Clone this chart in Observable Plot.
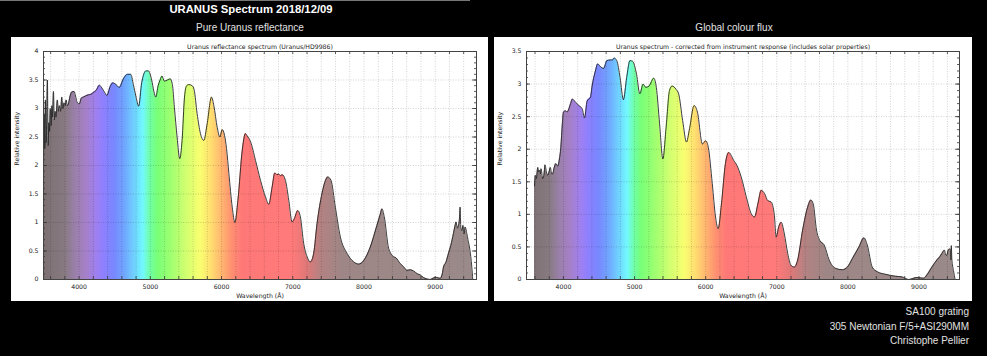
<!DOCTYPE html>
<html><head><meta charset="utf-8">
<script src="https://cdn.jsdelivr.net/npm/d3@7"></script>
<script src="https://cdn.jsdelivr.net/npm/@observablehq/plot@0.6"></script>
<style>
html,body{margin:0;padding:0;background:#000;width:987px;height:356px;overflow:hidden}
#root{position:relative;width:987px;height:356px;font-family:"Liberation Sans",Arial,sans-serif}
.t{position:absolute;white-space:nowrap;line-height:1}
.c{transform:translateX(-50%)}
.panel{position:absolute;top:37px}
</style></head>
<body><div id="root">
<div style="position:absolute;left:0;top:0;width:470px;height:1px;background:#777"></div>
<div class="t c" style="left:251px;top:3.5px;font-size:11.3px;font-weight:bold;color:#fff">URANUS Spectrum 2018/12/09</div>
<div class="t c" style="left:250px;top:23px;font-size:10px;color:#e2e2e2">Pure Uranus reflectance</div>
<div class="t c" style="left:734px;top:23px;font-size:10px;color:#e2e2e2">Global colour flux</div>
<div id="left" class="panel" style="left:11px"></div>
<div id="right" class="panel" style="left:494px"></div>
<div class="t" style="right:18px;top:307px;font-size:10px;color:#e2e2e2;text-align:right">SA100 grating</div>
<div class="t" style="right:18px;top:321.5px;font-size:10px;color:#e2e2e2;text-align:right">305 Newtonian F/5+ASI290MM</div>
<div class="t" style="right:18px;top:336px;font-size:10px;color:#e2e2e2;text-align:right">Christophe Pellier</div>
</div>
<script>
// ---- Data: Uranus reflectance (Uranus/HD9986) ----
const reflWave = [3500,3510,3518,3527,3535,3545,3555,3565,3575,3585,3595,3607,3618,3628,3640,3652,3664,3675,3695,3708,3723,3740,3757,3772,3790,3805,3818,3835,3850,3870,3897,3930,3950,3970,4004,4030,4060,4090,4130,4165,4200,4240,4285,4320,4360,4390,4435,4472,4519,4563,4622,4678,4725,4762,4800,4836,4879,4940,4973,5019,5050,5076,5110,5137,5164,5197,5240,5280,5310,5338,5376,5413,5446,5480,5510,5540,5587,5615,5657,5704,5751,5798,5859,5892,5939,5977,6009,6042,6070,6103,6150,6188,6230,6291,6336,6360,6407,6477,6547,6617,6664,6710,6748,6780,6804,6830,6850,6897,6944,6991,7023,7070,7107,7154,7201,7248,7294,7341,7411,7460,7491,7537,7598,7668,7762,7855,7925,7995,8089,8182,8230,8252,8285,8346,8416,8450,8509,8560,8603,8650,8696,8750,8790,8830,8860,8930,8970,9000,9040,9070,9100,9117,9150,9187,9220,9257,9280,9294,9310,9327,9340,9350,9360,9374,9390,9405,9421,9444,9460,9481,9500,9514,9528];
const reflValue = [2.1,2.9,2.3,3.15,2.4,2.7,3.5,2.35,2.75,2.6,3.0,2.7,3.05,2.85,3.3,2.8,2.95,2.85,3.15,2.95,3.05,2.95,3.2,3.0,3.1,3.05,3.15,3.05,3.08,3.2,3.29,3.3,3.22,3.12,3.08,3.18,3.2,3.22,3.24,3.25,3.28,3.32,3.41,3.36,3.28,3.23,3.38,3.45,3.42,3.37,3.52,3.6,3.6,3.42,3.2,3.04,3.45,3.66,3.66,3.5,3.3,3.2,3.4,3.5,3.57,3.48,3.5,3.52,3.42,3.02,2.5,2.12,2.44,3.2,3.4,3.42,3.4,3.33,2.91,2.56,2.44,2.73,3.2,3.05,2.67,2.5,2.63,2.53,2.3,1.86,1.27,1.0,1.39,2.27,2.56,2.52,2.42,2.09,1.74,1.45,1.32,1.62,1.87,1.84,1.85,1.82,1.84,1.74,1.39,1.01,1.07,1.21,1.1,0.63,0.4,0.31,0.46,0.98,1.51,1.74,1.8,1.74,1.27,0.75,0.46,0.31,0.27,0.33,0.57,0.95,1.15,1.24,1.1,0.55,0.4,0.38,0.28,0.22,0.16,0.17,0.15,0.1,0.08,0.04,0.02,0.0,0.02,0.04,0.03,0.02,0.1,0.22,0.3,0.46,0.6,0.81,0.95,1.01,0.9,0.95,1.05,1.27,0.9,0.86,0.95,0.8,0.92,0.81,0.7,0.57,0.4,0.22,0.0];

// ---- Data: global colour flux (corrected from instrument response) ----
const fluxWave = [3593,3605,3618,3639,3650,3662,3675,3685,3708,3725,3741,3760,3778,3800,3815,3835,3847,3870,3894,3920,3940,3963,3985,4000,4032,4050,4069,4100,4125,4171,4218,4264,4296,4333,4380,4403,4449,4481,4519,4565,4611,4657,4690,4713,4750,4796,4843,4889,4935,4972,5028,5074,5120,5157,5204,5269,5306,5352,5398,5444,5491,5528,5583,5620,5676,5731,5769,5838,5884,5954,6000,6037,6093,6139,6176,6222,6278,6324,6394,6440,6501,6571,6641,6688,6734,6781,6828,6874,6921,6967,6991,7028,7061,7107,7154,7200,7247,7294,7364,7434,7480,7513,7559,7606,7667,7737,7830,7923,7993,8063,8156,8226,8273,8343,8413,8529,8669,8762,8855,8972,9065,9112,9182,9252,9300,9322,9359,9375,9392,9410,9438,9450,9455,9462,9485,9508];
const fluxValue = [1.44,1.6,1.55,1.72,1.65,1.68,1.62,1.7,1.55,1.6,1.76,1.65,1.6,1.66,1.72,1.62,1.62,1.72,1.78,1.74,1.83,2.03,2.4,2.57,2.59,2.57,2.6,2.7,2.77,2.72,2.67,2.62,2.48,2.74,2.8,2.97,3.2,3.31,3.27,3.24,3.36,3.37,3.37,3.4,3.36,3.1,2.76,3.1,3.36,3.35,3.15,2.85,3.0,2.95,2.97,3.09,2.95,2.39,1.85,2.34,2.9,2.97,2.92,2.85,2.44,2.11,2.29,2.67,2.57,2.08,2.13,2.03,1.47,0.96,0.78,1.16,1.78,1.95,1.83,1.75,1.57,1.27,1.01,0.96,1.16,1.37,1.32,1.21,1.19,0.98,0.65,0.81,0.88,0.7,0.4,0.22,0.19,0.3,0.76,1.11,1.22,1.16,0.76,0.6,0.53,0.3,0.17,0.15,0.19,0.32,0.5,0.64,0.53,0.19,0.12,0.08,0.05,0.04,0.0,0.03,0.02,0.07,0.19,0.3,0.36,0.4,0.45,0.38,0.37,0.45,0.47,0.3,0.52,0.32,0.14,0.0];

// ---- Ticks ----
const xTickValues = [4000,5000,6000,7000,8000,9000];
const xTickLabels = ["4000","5000","6000","7000","8000","9000"];
const reflYTicks = [0,0.5,1,1.5,2,2.5,3,3.5,4];
const reflYLabels = ["0","0.5","1","1.5","2","2.5","3","3.5","4"];
const fluxYTicks = [0,0.5,1,1.5,2,2.5,3,3.5];
const fluxYLabels = ["0","0.5","1","1.5","2","2.5","3","3.5"];

// ---- Style: spectral colour gradient stops ----
const gradWave  = [3450,3800,3950,4100,4250,4350,4500,4650,4800,4900,5000,5100,5300,5500,5700,5850,6000,6150,6300,7000,7200,7400,7700,9650];
const gradColor = ["#7b6e70","#877a80","#9a80aa","#a680c8","#9e80f0","#8e80ff","#7888ff","#70a8ff","#70d8ff","#72f8ff","#70ffa8","#78ff78","#a0ff70","#d0ff70","#f8ff70","#ffe070","#ffb870","#ff9070","#ff7878","#ff7a7a","#e07878","#b48282","#9e8686","#9a8a8a"];

function drawPanel(el, o) {
  const data = o.wave.map((w, i) => ({w, v: o.value[i]}));
  const H = 264, mt = 14, mb = 22, ml = 32, innerW = 433, mr = o.width - ml - innerW;
  const innerH = H - mt - mb;
  const xMinor = d3.range(3600, o.xDomain[1], 200);
  const yMinor = d3.range(0, Math.round(o.yDomain[1] * 10) + 1).map(i => i / 10);
  const yGrid = o.yTicks.filter(d => d > 0 && d < o.yDomain[1]);
  const tickStyle = {stroke: "#333", strokeWidth: 0.8};
  const gridStyle = {stroke: "#000", strokeOpacity: 0.22, strokeDasharray: "1,1.5", strokeWidth: 0.8};
  const plot = Plot.plot({
    width: o.width, height: H,
    marginTop: mt, marginBottom: mb, marginLeft: ml, marginRight: mr,
    style: {background: "#fff", fontFamily: "DejaVu Sans, sans-serif", fontSize: "6.2px", color: "#222"},
    x: {domain: o.xDomain, ticks: xTickValues, tickFormat: d => xTickLabels[xTickValues.indexOf(d)], tickSize: 0, tickPadding: 5, label: null},
    y: {domain: o.yDomain, ticks: o.yTicks, tickFormat: d => o.yLabels[o.yTicks.indexOf(d)], tickSize: 0, tickPadding: 5, label: null},
    marks: [
      Plot.areaY(data, {x: "w", y: "v", fill: `url(#${o.gradId})`, curve: "monotone-x"}),
      Plot.ruleX(xMinor, gridStyle),
      Plot.ruleY(yGrid, gridStyle),
      Plot.lineY(data, {x: "w", y: "v", stroke: "#262626", strokeWidth: 0.9, curve: "monotone-x"}),
      Plot.ruleX(xMinor, {...tickStyle, insetTop: innerH - 3}),
      Plot.ruleX(xMinor, {...tickStyle, insetBottom: innerH - 3}),
      Plot.ruleY(yMinor, {...tickStyle, insetRight: innerW - 2}),
      Plot.ruleY(yMinor, {...tickStyle, insetLeft: innerW - 2}),
      Plot.ruleY(o.yTicks, {...tickStyle, insetRight: innerW - 4}),
      Plot.ruleY(o.yTicks, {...tickStyle, insetLeft: innerW - 4}),
      Plot.frame({stroke: "#444"}),
      Plot.text([o.subtitle], {frameAnchor: "top", dy: -7, text: d => d, fill: "#222"}),
      Plot.text(["Wavelength (Å)"], {frameAnchor: "bottom", dy: 18, text: d => d, fill: "#222"}),
      Plot.text(["Relative intensity"], {frameAnchor: "left", dx: -26, rotate: -90, text: d => d, fill: "#222"})
    ]
  });
  const xs = plot.scale("x");
  const svg = d3.select(plot);
  const w0 = gradWave[0], w1 = gradWave[gradWave.length - 1];
  const grad = svg.insert("defs", ":first-child").append("linearGradient")
    .attr("id", o.gradId).attr("gradientUnits", "userSpaceOnUse")
    .attr("x1", xs.apply(w0)).attr("x2", xs.apply(w1)).attr("y1", 0).attr("y2", 0);
  gradWave.forEach((w, i) => grad.append("stop").attr("offset", (w - w0) / (w1 - w0)).attr("stop-color", gradColor[i]));
  svg.selectAll('g[aria-label="area"] path').attr("fill", `url(#${o.gradId})`);
  el.appendChild(plot);
}

drawPanel(document.getElementById("left"), {
  wave: reflWave, value: reflValue, xDomain: [3500, 9580], yDomain: [0, 4],
  yTicks: reflYTicks, yLabels: reflYLabels, width: 477, gradId: "gradL",
  subtitle: "Uranus reflectance spectrum (Uranus/HD9986)"
});
drawPanel(document.getElementById("right"), {
  wave: fluxWave, value: fluxValue, xDomain: [3480, 9570], yDomain: [0, 3.5],
  yTicks: fluxYTicks, yLabels: fluxYLabels, width: 478, gradId: "gradR",
  subtitle: "Uranus spectrum - corrected from instrument response (includes solar properties)"
});
</script>
</body></html>
